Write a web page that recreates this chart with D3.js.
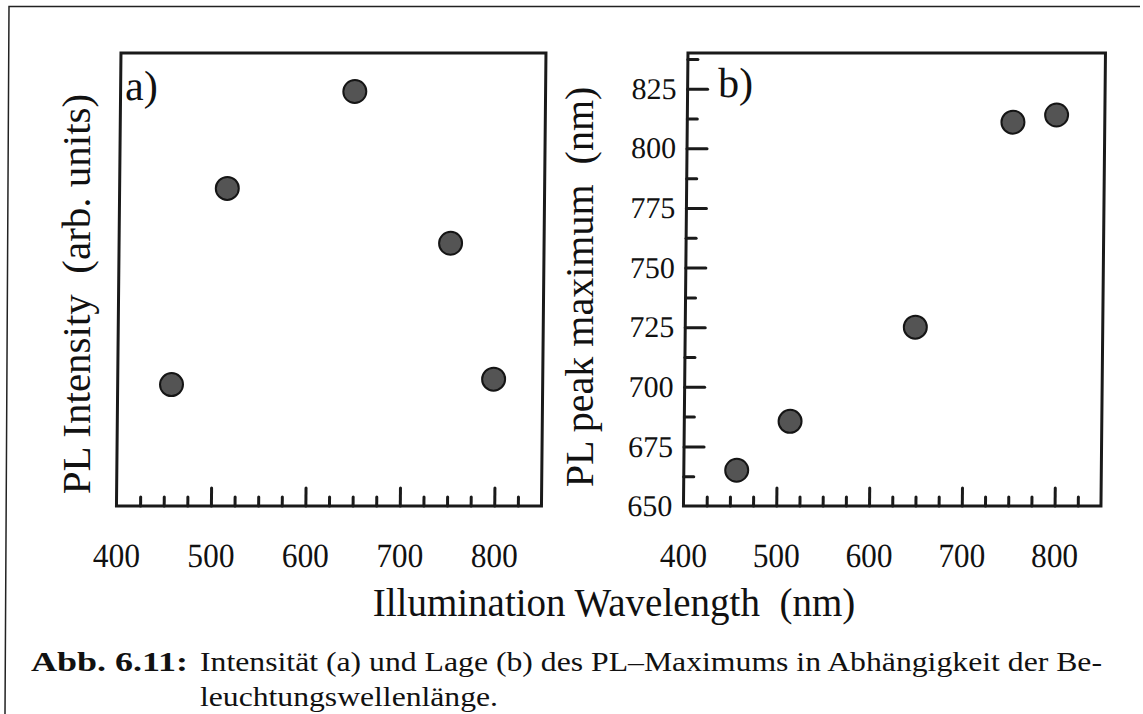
<!DOCTYPE html>
<html lang="en">
<head>
    <meta charset="UTF-8">
    <script src="https://d3js.org/d3.v7.min.js"></script>
</head>
<style>
    body { margin: 0; background: white; }
    svg { display: block; background: white; }
    text { font-family: 'Liberation Serif', 'Times New Roman', serif; fill: #111; }
    .frame { fill: none; stroke: #222; stroke-width: 1.5px; }
    .box { fill: none; stroke: #1a1a1a; stroke-width: 3px; }
    .domain { display: none; }
    .dot { fill: #545454; stroke: #151515; stroke-width: 2px; }
</style>
<body>
<div class="chart"></div>
<script>
    // illumination wavelengths (nm), shared by both panels
    const wavelength = [457, 514, 648, 751, 798]
    // panel a: PL intensity, arbitrary units (0..1 of the axis)
    const intensity = [0.268, 0.701, 0.915, 0.58, 0.28]
    // panel b: PL peak position (nm)
    const peakMax = [665, 685.5, 725, 811, 814]

    const xMajor = [400, 500, 600, 700, 800]
    const xMinor = [425, 450, 475, 525, 550, 575, 625, 650, 675, 725, 750, 775, 825]
    const yMajorB = [650, 675, 700, 725, 750, 775, 800, 825]
    const yMinorB = [662.5, 687.5, 712.5, 737.5, 762.5, 787.5, 812.5, 837.5]

    const width = 1143, height = 714

    const svg = d3.select('.chart')
        .append('svg')
        .attr('width', width)
        .attr('height', height)

    // page frame of the scan (top and left only)
    svg.append('path')
        .attr('class', 'frame')
        .attr('d', 'M5,714 L9,6.5 L1140,6.5')

    // the scanned plots lean a little to the left
    const plots = svg.append('g').attr('transform', 'skewX(-0.57)')

    const boxTop = 53, boxBottom = 506

    function styleTicks(sel) {
        sel.selectAll('.tick line')
            .attr('stroke', '#1a1a1a')
            .attr('stroke-width', 3)
            .attr('stroke-linecap', 'round')
    }

    function panel(left, right, yScale, values, label, labelX, labelY) {
        const g = plots.append('g')
        const x = d3.scaleLinear().domain([400, 850]).range([left, right])

        // minor x ticks
        const xm = g.append('g')
            .attr('transform', `translate(0,${boxBottom})`)
            .call(d3.axisBottom(x).tickValues(xMinor).tickSize(-9).tickSizeOuter(0).tickFormat(''))
        styleTicks(xm)
        // major x ticks + labels
        const xa = g.append('g')
            .attr('transform', `translate(0,${boxBottom})`)
            .call(d3.axisBottom(x).tickValues(xMajor).tickSize(-18).tickSizeOuter(0).tickPadding(37))
        styleTicks(xa)
        xa.selectAll('.tick line').filter(d => d == 400).remove()
        xa.selectAll('text')
            .style('font-family', "'Liberation Serif', serif")
            .style('font-size', '34px')
            .attr('textLength', 47)
            .attr('lengthAdjust', 'spacingAndGlyphs')
            .attr('fill', '#111')

        g.selectAll('.dot')
            .data(wavelength)
            .enter().append('circle')
            .attr('class', 'dot')
            .attr('cx', d => x(d))
            .attr('cy', (d, i) => yScale(values[i]))
            .attr('r', 11.5)

        g.append('rect')
            .attr('class', 'box')
            .attr('x', left)
            .attr('y', boxTop)
            .attr('width', right - left)
            .attr('height', boxBottom - boxTop)

        g.append('text')
            .attr('x', labelX)
            .attr('y', labelY)
            .style('font-size', '42px')
            .text(label)
        return g
    }

    const yA = d3.scaleLinear().domain([0, 1]).range([boxBottom, boxTop])
    panel(121.5, 546.5, yA, intensity, 'a)', 126, 100)

    const yB = d3.scaleLinear().domain([650, 840]).range([boxBottom, boxTop])
    const gb = panel(688.5, 1106, yB, peakMax, 'b)', 719, 97)

    const yBm = gb.append('g')
        .attr('transform', 'translate(688.5,0)')
        .call(d3.axisLeft(yB).tickValues(yMinorB).tickSize(-10).tickSizeOuter(0).tickFormat(''))
    styleTicks(yBm)
    const ya = gb.append('g')
        .attr('transform', 'translate(688.5,0)')
        .call(d3.axisLeft(yB).tickValues(yMajorB).tickSize(-20).tickSizeOuter(0).tickPadding(11))
    styleTicks(ya)
    ya.selectAll('.tick line').filter(d => d == 650).remove()
    ya.selectAll('text')
        .style('font-family', "'Liberation Serif', serif")
        .style('font-size', '30px')
        .attr('fill', '#111')

    // axis titles
    svg.append('text')
        .attr('transform', 'translate(90,294) rotate(-90)')
        .attr('text-anchor', 'middle')
        .style('font-size', '41px')
        .style('white-space', 'pre')
        .text('PL Intensity  (arb. units)')

    svg.append('text')
        .attr('transform', 'translate(593,287) rotate(-90)')
        .attr('text-anchor', 'middle')
        .style('font-size', '40px')
        .style('white-space', 'pre')
        .text('PL peak maximum  (nm)')

    svg.append('text')
        .attr('x', 614)
        .attr('y', 616)
        .attr('text-anchor', 'middle')
        .style('font-size', '39px')
        .style('white-space', 'pre')
        .text('Illumination Wavelength  (nm)')

    // figure caption
    svg.append('text')
        .attr('x', 31)
        .attr('y', 671)
        .style('font-size', '28px')
        .style('font-weight', 'bold')
        .attr('textLength', 157)
        .attr('lengthAdjust', 'spacingAndGlyphs')
        .text('Abb. 6.11:')

    svg.append('text')
        .attr('x', 200)
        .attr('y', 671)
        .style('font-size', '28px')
        .attr('textLength', 902)
        .attr('lengthAdjust', 'spacingAndGlyphs')
        .text('Intensität (a) und Lage (b) des PL–Maximums in Abhängigkeit der Be-')

    svg.append('text')
        .attr('x', 200)
        .attr('y', 706)
        .style('font-size', '28px')
        .attr('textLength', 298)
        .attr('lengthAdjust', 'spacingAndGlyphs')
        .text('leuchtungswellenlänge.')
</script>
</body>
</html>
